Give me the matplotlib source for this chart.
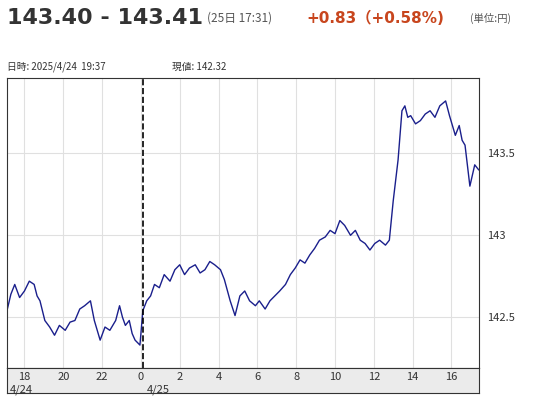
import matplotlib.pyplot as plt

plt.rcParams["font.family"] = ["Noto Sans CJK JP", "DejaVu Sans"]

# hours from 4/24 00:00
hours = [17.1, 17.3, 17.5, 17.75, 18.0, 18.25, 18.5, 18.65, 18.8, 19.05, 19.3, 19.55, 19.8, 20.1, 20.35,
         20.6, 20.85, 21.1, 21.4, 21.6, 21.9, 22.15, 22.4, 22.7, 22.9, 23.05, 23.2, 23.4, 23.55, 23.7,
         23.95, 24.1, 24.3, 24.5, 24.7, 24.95, 25.2, 25.5, 25.75, 26.0, 26.25, 26.5, 26.8, 27.05, 27.3,
         27.55, 27.8, 28.1, 28.3, 28.6, 28.85, 29.1, 29.35, 29.6, 29.9, 30.1, 30.4, 30.65, 30.9, 31.15,
         31.45, 31.7, 31.95, 32.2, 32.45, 32.7, 32.95, 33.2, 33.5, 33.75, 34.0, 34.25, 34.5, 34.8, 35.05,
         35.3, 35.55, 35.8, 36.05, 36.3, 36.6, 36.8, 37.0, 37.25, 37.45, 37.6, 37.75, 37.9, 38.15, 38.4,
         38.65, 38.9, 39.15, 39.4, 39.7, 39.9, 40.2, 40.4, 40.55, 40.7, 40.95, 41.2, 41.4]
prices = [142.54, 142.64, 142.70, 142.62, 142.66, 142.72, 142.70, 142.63, 142.60, 142.48, 142.44, 142.39, 142.45, 142.42, 142.47,
          142.48, 142.55, 142.57, 142.60, 142.48, 142.36, 142.44, 142.42, 142.48, 142.57, 142.50, 142.45, 142.48, 142.40, 142.36,
          142.33, 142.54, 142.60, 142.63, 142.70, 142.68, 142.76, 142.72, 142.79, 142.82, 142.76, 142.80, 142.82, 142.77, 142.79,
          142.84, 142.82, 142.79, 142.73, 142.60, 142.51, 142.63, 142.66, 142.60, 142.57, 142.60, 142.55, 142.60, 142.63, 142.66,
          142.70, 142.76, 142.80, 142.85, 142.83, 142.88, 142.92, 142.97, 142.99, 143.03, 143.01, 143.09, 143.06, 143.00, 143.03,
          142.97, 142.95, 142.91, 142.95, 142.97, 142.94, 142.97, 143.21, 143.46, 143.76, 143.79, 143.72, 143.73, 143.68, 143.70,
          143.74, 143.76, 143.72, 143.79, 143.82, 143.73, 143.61, 143.67, 143.58, 143.55, 143.30, 143.43, 143.40]

hour_ticks = list(range(18, 42, 2))
hour_labels = [str(h % 24) for h in hour_ticks]

fig = plt.figure(figsize=(5.37, 4.0), dpi=100)
ax = fig.add_axes([0.013, 0.08, 0.879, 0.725])
axb = fig.add_axes([0.013, 0.0175, 0.879, 0.0625], sharex=ax)

ax.plot(hours, prices, color="#1a1f8c", linewidth=1.0)
ax.axvline(24.1, color="black", linestyle="--", linewidth=1.2)
ax.set_xlim(17.1, 41.42)
ax.set_ylim(142.19, 143.96)
ax.set_xticks(hour_ticks)
ax.set_yticks([142.5, 143, 143.5])
ax.set_yticklabels(["142.5", "143", "143.5"])
ax.yaxis.tick_right()
ax.tick_params(axis="y", length=0, labelsize=8, pad=6, colors="#333333")
ax.tick_params(axis="x", length=0, labelbottom=False)
ax.grid(True, color="#e0e0e0", linewidth=0.8)
ax.set_axisbelow(True)
for s in ax.spines.values():
    s.set_color("#333333")

axb.set_facecolor("#ebebeb")
axb.set_yticks([])
axb.tick_params(axis="x", length=0, labelbottom=False)
for s in axb.spines.values():
    s.set_color("#333333")
tr = axb.get_xaxis_transform()
for h, lab in zip(hour_ticks, hour_labels):
    axb.text(h, 0.62, lab, fontsize=8, color="#333333", ha="center", va="center", transform=tr)
axb.text(17.25, 0.12, "4/24", fontsize=8, color="#333333", va="center", transform=tr)
axb.text(24.3, 0.12, "4/25", fontsize=8, color="#333333", va="center", transform=tr)

fig.text(0.013, 0.955, "143.40 - 143.41", fontsize=16, fontweight="bold", color="#333333",
         va="center", family="DejaVu Sans")
fig.text(0.385, 0.955, "(25日 17:31)", fontsize=8.5, color="#555555", va="center")
fig.text(0.57, 0.955, "+0.83（+0.58%)", fontsize=11, fontweight="bold", color="#c8461e",
         va="center", family=["DejaVu Sans", "Noto Sans CJK JP"])
fig.text(0.875, 0.955, "(単位:円)", fontsize=7.5, color="#555555", va="center")
fig.text(0.013, 0.832, "日時: 2025/4/24  19:37", fontsize=7, color="#333333", va="center")
fig.text(0.32, 0.832, "現値: 142.32", fontsize=7, color="#333333", va="center")

fig.savefig("out.png", dpi=100)
